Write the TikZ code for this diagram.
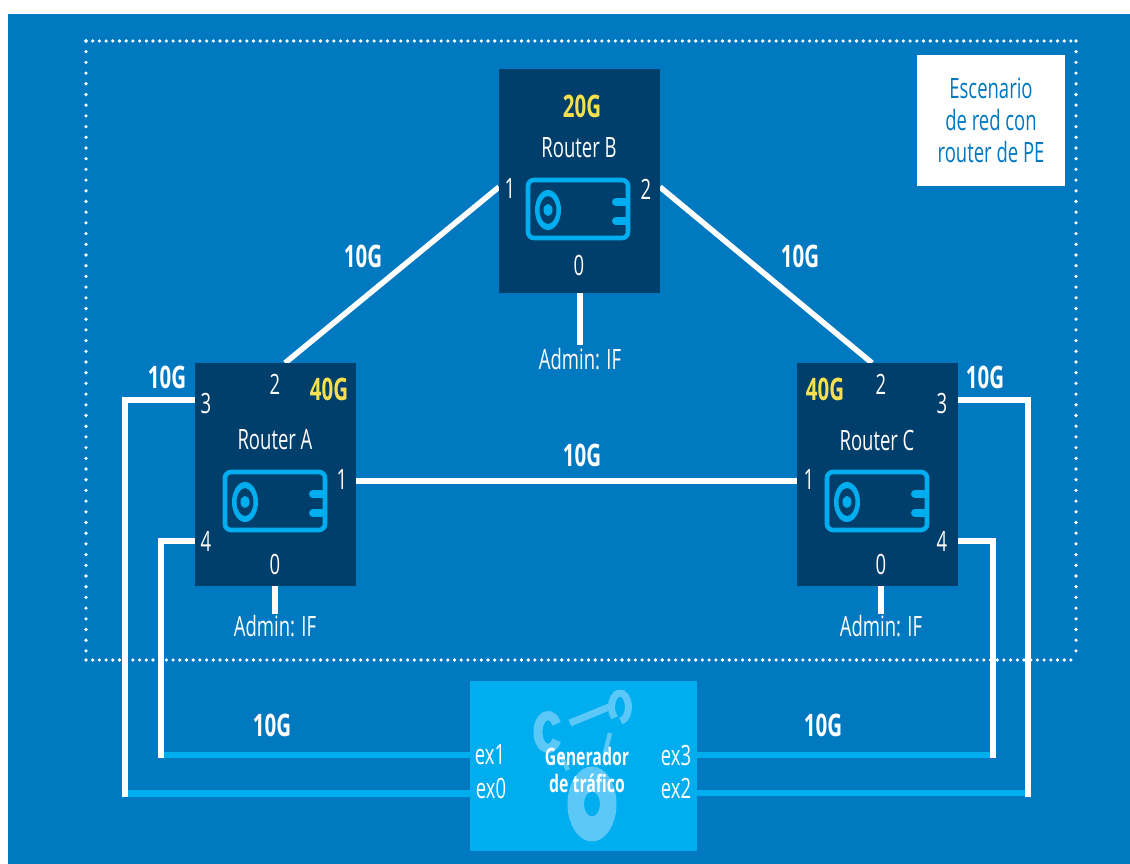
\documentclass[tikz,border=0pt]{standalone}
\usepackage{fontspec}
\setmainfont[FakeStretch=0.66]{Open Sans}
\definecolor{bgblue}{HTML}{0079C1}
\definecolor{darkbox}{HTML}{003E6B}
\definecolor{cyanbox}{HTML}{00AEEF}
\definecolor{iconlight}{HTML}{5CC8F8}
\definecolor{gold}{HTML}{F7E04F}
\tikzset{
  router/.style={fill=darkbox,draw=none,minimum width=161,minimum height=223,inner sep=0},
  lbl/.style={text=white,inner sep=0,font=\fontsize{28}{32}\selectfont,align=center},
  boldlbl/.style={text=white,inner sep=0,font=\fontsize{31}{34}\selectfont\bfseries},
  capacity/.style={text=gold,inner sep=0,font=\fontsize{31}{34}\selectfont\bfseries},
  wire/.style={draw=white,line width=5.5,line join=miter},
  bluewire/.style={draw=cyanbox,line width=6.5},
  icon/.style={draw=cyanbox,line width=4.6},
  genicon/.style={draw=iconlight,line cap=round}
}
\newcommand{\routericon}[2]{%
  \begin{scope}[shift={(#1,#2)}]
    \draw[icon,rounded corners=6] (0,0) rectangle (100,58);
    \fill[cyanbox,even odd rule] (20,30) ellipse[x radius=13,y radius=20] ellipse[x radius=8.5,y radius=14];
    \fill[cyanbox] (20,30) ellipse[x radius=4.5,y radius=6];
    \draw[icon,line width=8,line cap=round] (97,22) -- (88,22);
    \draw[icon,line width=8,line cap=round] (97,41) -- (88,41);
  \end{scope}}
\begin{document}
\begin{tikzpicture}[x=1pt,y=-1pt]
\useasboundingbox (0,0) rectangle (1130,864);
\fill[white] (0,0) rectangle (1130,864);
\fill[bgblue] (8,14) rectangle (1130,864);
\draw[white,line width=3.6,line cap=round,dash pattern=on 0pt off 6.7pt] (86,41) -- (1076,41) (86,660) -- (1076,660);
\draw[white,line width=3.6,line cap=round,dash pattern=on 0pt off 10.7pt] (86,41) -- (86,660) (1076,41) -- (1076,660);

% connector end points
\coordinate (a2) at (285,363);
\coordinate (c2) at (872,363);
\coordinate (b1) at (499,187);
\coordinate (b2) at (660,187);
\coordinate (a1) at (355,481);
\coordinate (c1) at (797,481);
\coordinate (a3) at (195,400);
\coordinate (a3c) at (125,400);
\coordinate (a3d) at (125,797);
\coordinate (a4) at (195,541);
\coordinate (a4c) at (161,541);
\coordinate (a4d) at (161,758);
\coordinate (c3) at (958,400);
\coordinate (c3c) at (1028,400);
\coordinate (c3d) at (1028,797);
\coordinate (c4) at (958,541);
\coordinate (c4c) at (993,541);
\coordinate (c4d) at (993,758);
\coordinate (gl1) at (470,755);
\coordinate (gl0) at (470,793.5);
\coordinate (gr3) at (697,755);
\coordinate (gr2) at (697,793);
\coordinate (ba) at (580,345);
\coordinate (aa) at (275,614);
\coordinate (ca) at (881,614);

\draw[bluewire] (a3d |- gl0) -- (gl0);
\draw[bluewire] (a4d |- gl1) -- (gl1);
\draw[bluewire] (c3d |- gr2) -- (gr2);
\draw[bluewire] (c4d |- gr3) -- (gr3);
\draw[wire] (a2) -- (b1);
\draw[wire] (b2) -- (c2);
\draw[wire,line width=6] (a1) -- (c1);
\draw[wire] (a3) -- (a3c) -- (a3d);
\draw[wire] (a4) -- (a4c) -- (a4d);
\draw[wire] (c3) -- (c3c) -- (c3d);
\draw[wire] (c4) -- (c4c) -- (c4d);

\node[router] (rb) at (579.5,181) {};
\node[router] (ra) at (275,474) {};
\node[router] (rc) at (877.5,474) {};
\draw[wire] (rb.south -| ba) -- (ba);
\draw[wire] (ra.south -| aa) -- (aa);
\draw[wire] (rc.south -| ca) -- (ca);

\routericon{528}{180}
\routericon{225}{472}
\routericon{827}{472}

% Router B
\node[capacity] (b20) at (582,106) {20G};
\node[lbl] (bn) at (579,148) {Router B};
\node[lbl] (bp1) at (510,189) {1};
\node[lbl] (bp2) at (646,189) {2};
\node[lbl] (bp0) at (579,265) {0};
\node[lbl] (bad) at (580,359) {Admin: IF};
% Router A
\node[capacity] (a40) at (329,389) {40G};
\node[lbl] (an) at (275,440) {Router A};
\node[lbl] (ap2) at (275,384) {2};
\node[lbl] (ap3) at (206,403) {3};
\node[lbl] (ap1) at (342,480) {1};
\node[lbl] (ap4) at (206,541) {4};
\node[lbl] (ap0) at (275,564) {0};
\node[lbl] (aad) at (275,626) {Admin: IF};
% Router C
\node[capacity] (c40) at (825,389) {40G};
\node[lbl] (cn) at (877,440) {Router C};
\node[lbl] (cp2) at (881,384) {2};
\node[lbl] (cp3) at (942,403) {3};
\node[lbl] (cp1) at (809,480) {1};
\node[lbl] (cp4) at (942,541) {4};
\node[lbl] (cp0) at (881,564) {0};
\node[lbl] (cad) at (881,626) {Admin: IF};
% link labels
\node[boldlbl] (l1) at (363,256) {10G};
\node[boldlbl] (l2) at (800,256) {10G};
\node[boldlbl] (l3) at (582,455) {10G};
\node[boldlbl] (l4) at (167,377) {10G};
\node[boldlbl] (l5) at (985,377) {10G};
\node[boldlbl] (l6) at (272,725) {10G};
\node[boldlbl] (l7) at (823,725) {10G};

% scenario box
\node[fill=white,minimum width=148,minimum height=131,inner sep=0,text=bgblue,align=center,
      font=\fontsize{28}{32}\selectfont] (sc) at (991,120.5) {Escenario\\de red con\\router de PE};

% traffic generator
\node[fill=cyanbox,minimum width=227,minimum height=170,inner sep=0] (gen) at (583.5,766) {};
\draw[genicon,line width=7,line cap=butt] (570,723) -- (609,707);
\draw[genicon,line width=7,line cap=butt] ([shift={(130:8.5 and 14)}]620,707) arc[start angle=130,end angle=445,x radius=8.5,y radius=14];
\draw[genicon,line width=9,line cap=butt] ([shift={(30:10 and 16.5)}]548,732) arc[start angle=30,end angle=330,x radius=10,y radius=16.5];
\draw[genicon,line width=4.5,line cap=butt] (610,733) -- (605,753);
\draw[genicon,line width=4.5,line cap=butt] (560,753) -- (568,770);
\fill[iconlight,even odd rule] (592,804) ellipse[x radius=24.5,y radius=37.5] ellipse[x radius=8,y radius=12.5];
\node[text=white,inner sep=0,align=center,font=\fontsize{24}{27}\selectfont\bfseries] (gt) at (587,770) {Generador\\de tráfico};
\node[lbl] (e1) at (490,755) {ex1};
\node[lbl] (e0) at (491,788) {ex0};
\node[lbl] (e3) at (676,755) {ex3};
\node[lbl] (e2) at (676,788) {ex2};
\end{tikzpicture}
\end{document}
